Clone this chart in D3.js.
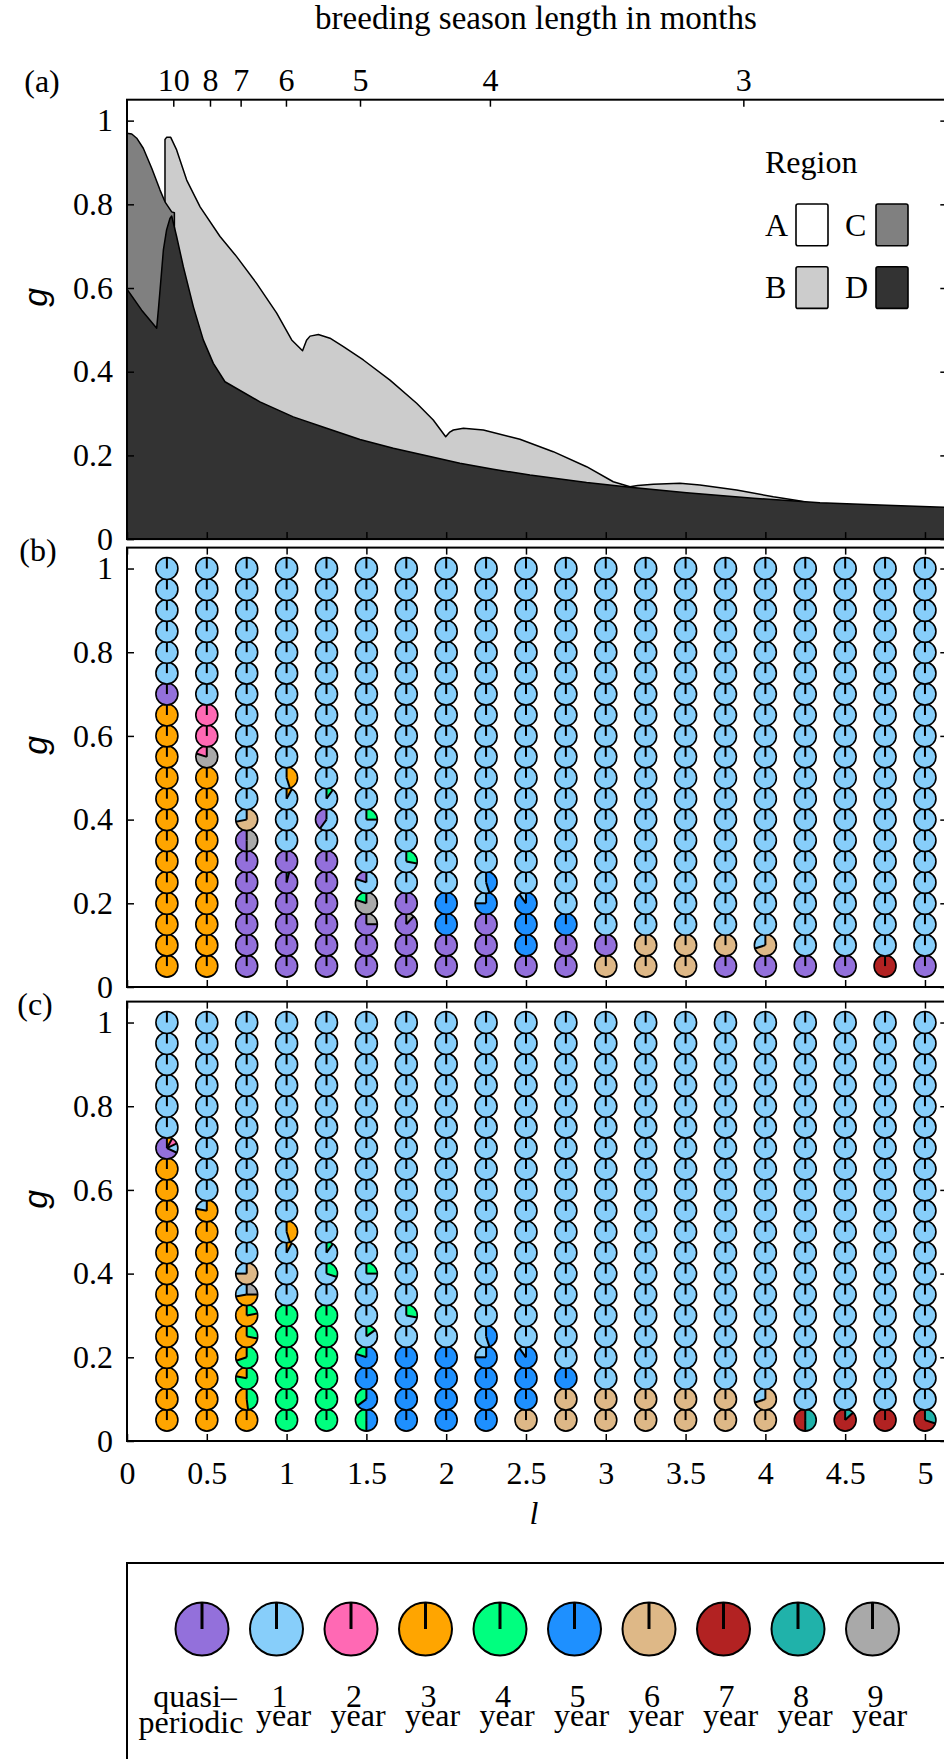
<!DOCTYPE html>
<html>
<head>
<meta charset="utf-8">
<script src="https://cdn.jsdelivr.net/npm/d3@7"></script>
<style>
    body { margin: 0; background: #fff; }
    svg { display: block; font-family: 'Liberation Serif', 'Times New Roman', serif; }
</style>
</head>
<body>
<svg id="chart" width="944" height="1759"></svg>
<script>
// ---- data ----
const categories = ['q', '1', '2', '3', '4', '5', '6', '7', '8', '9'];
const catColors = ['#9370db', '#87cefa', '#ff69b4', '#ffa500', '#00ff7f', '#1e90ff', '#deb887', '#b22222', '#20b2aa', '#a9a9a9'];
const legendLine1 = ['quasi\u2013', '1', '2', '3', '4', '5', '6', '7', '8', '9'];
const legendLine2 = ['periodic', 'year', 'year', 'year', 'year', 'year', 'year', 'year', 'year', 'year'];

const lValues = [0.25, 0.5, 0.75, 1, 1.25, 1.5, 1.75, 2, 2.25, 2.5, 2.75, 3, 3.25, 3.5, 3.75, 4, 4.25, 4.5, 4.75, 5];
const gValues = [0.05, 0.1, 0.15, 0.2, 0.25, 0.3, 0.35, 0.4, 0.45, 0.5, 0.55, 0.6, 0.65, 0.7, 0.75, 0.8, 0.85, 0.9, 0.95, 1];
const gTicks = [0, 0.2, 0.4, 0.6, 0.8, 1];
const lTicks = [0, 0.5, 1, 1.5, 2, 2.5, 3, 3.5, 4, 4.5, 5];
const monthTicks = [10, 8, 7, 6, 5, 4, 3];
const monthTickL = [0.29, 0.52, 0.712, 0.996, 1.46, 2.274, 3.862];

// region boundaries of panel (a), [l, g]
const regionD = [[0, 0.597], [0.092, 0.547], [0.186, 0.504], [0.197, 0.55], [0.207, 0.595], [0.228, 0.691], [0.248, 0.739], [0.269, 0.766], [0.28, 0.772], [0.311, 0.723], [0.353, 0.651], [0.416, 0.555], [0.478, 0.476], [0.541, 0.42], [0.614, 0.376], [0.833, 0.328], [1.042, 0.292], [1.251, 0.265], [1.46, 0.238], [1.669, 0.217], [1.878, 0.199], [2.086, 0.181], [2.295, 0.167], [2.525, 0.153], [2.88, 0.135], [3.152, 0.124], [3.507, 0.111], [3.925, 0.0975], [4.342, 0.087], [4.76, 0.081], [5.2, 0.075]];
const regionC = [[0, 0.97], [0.03, 0.968], [0.061, 0.958], [0.102, 0.934], [0.155, 0.886], [0.207, 0.834], [0.238, 0.806], [0.28, 0.782], [0.297, 0.78]];
const regionB = [[0.238, 0.955], [0.248, 0.96], [0.274, 0.96], [0.311, 0.93], [0.374, 0.858], [0.458, 0.794], [0.583, 0.723], [0.687, 0.675], [0.812, 0.611], [0.938, 0.54], [1.032, 0.476], [1.1, 0.45], [1.125, 0.475], [1.147, 0.485], [1.199, 0.489], [1.272, 0.48], [1.356, 0.46], [1.481, 0.428], [1.648, 0.38], [1.815, 0.3245], [1.919, 0.2846], [1.997, 0.2447], [2.02, 0.255], [2.045, 0.2607], [2.108, 0.2647], [2.233, 0.2607], [2.4, 0.2447], [2.462, 0.2385], [2.671, 0.2089], [2.88, 0.173], [3.047, 0.137], [3.152, 0.125], [3.2, 0.128], [3.298, 0.131], [3.465, 0.1334], [3.59, 0.1295], [3.82, 0.1175], [4.05, 0.101], [4.2, 0.092], [4.25, 0.0885]];
const regionNames = ['A', 'B', 'C', 'D'];
const regionFills = ['#ffffff', '#cccccc', '#808080', '#333333'];

// panel (b): one string per l column, one code per g from 0.05 up to 1 ('q' quasi-periodic, 'm' mixed)
const panelB = [
    '3333333333333q111111',
    '3333333333m221111111',
    'qqqqqqmm111111111111',
    'qqqqmq11mm1111111111',
    'qqqqqq1mm11111111111',
    'qqmmm11m111111111111',
    'qqmq1m11111111111111',
    'qq551111111111111111',
    'qqqmm111111111111111',
    'q55m1111111111111111',
    'qq511111111111111111',
    '6q111111111111111111',
    '66111111111111111111',
    '66111111111111111111',
    'q6111111111111111111',
    'qm111111111111111111',
    'q1111111111111111111',
    'q1111111111111111111',
    '71111111111111111111',
    'q1111111111111111111'
];
const mixedB = [
    { l: 0.5, g: 0.55, parts: { 2: 0.2, 9: 0.8 } },
    { l: 0.75, g: 0.35, parts: { q: 0.5, 9: 0.5 } },
    { l: 0.75, g: 0.4, parts: { 1: 0.28, 6: 0.72 } },
    { l: 1, g: 0.25, parts: { q: 0.96, 4: 0.04 } },
    { l: 1, g: 0.45, parts: { 1: 0.92, 3: 0.08 } },
    { l: 1, g: 0.5, parts: { 1: 0.55, 3: 0.45 } },
    { l: 1.25, g: 0.4, parts: { q: 0.4, 1: 0.6 } },
    { l: 1.25, g: 0.45, parts: { 1: 0.9, 4: 0.1 } },
    { l: 1.5, g: 0.15, parts: { q: 0.75, 9: 0.25 } },
    { l: 1.5, g: 0.2, parts: { 4: 0.2, 9: 0.8 } },
    { l: 1.5, g: 0.25, parts: { q: 0.2, 1: 0.8 } },
    { l: 1.5, g: 0.4, parts: { 1: 0.75, 4: 0.25 } },
    { l: 1.75, g: 0.15, parts: { q: 0.88, 9: 0.12 } },
    { l: 1.75, g: 0.3, parts: { 1: 0.72, 4: 0.28 } },
    { l: 2.25, g: 0.2, parts: { 1: 0.25, 5: 0.75 } },
    { l: 2.25, g: 0.25, parts: { 1: 0.55, 5: 0.45 } },
    { l: 2.5, g: 0.2, parts: { 1: 0.1, 5: 0.9 } },
    { l: 4, g: 0.1, parts: { 1: 0.3, 6: 0.7 } }
];

// panel (c)
const panelC = [
    '3333333333333m111111',
    '3333333333m111111111',
    '3mmmmmmm111111111111',
    '44444411mm1111111111',
    '4444441mm11111111111',
    'mm5mm11m111111111111',
    '55551m11111111111111',
    '55551111111111111111',
    '555mm111111111111111',
    '655m1111111111111111',
    '66511111111111111111',
    '66111111111111111111',
    '66111111111111111111',
    '66111111111111111111',
    '66111111111111111111',
    '6m111111111111111111',
    'm1111111111111111111',
    'm1111111111111111111',
    '71111111111111111111',
    'm1111111111111111111'
];
const mixedC = [
    { l: 0.25, g: 0.7, parts: { q: 0.68, 1: 0.14, 2: 0.1, 3: 0.08 } },
    { l: 0.5, g: 0.55, parts: { 1: 0.22, 3: 0.78 } },
    { l: 0.75, g: 0.1, parts: { 3: 0.52, 4: 0.48 } },
    { l: 0.75, g: 0.15, parts: { 3: 0.22, 4: 0.78 } },
    { l: 0.75, g: 0.2, parts: { 3: 0.3, 4: 0.7 } },
    { l: 0.75, g: 0.25, parts: { 3: 0.72, 4: 0.28 } },
    { l: 0.75, g: 0.3, parts: { 3: 0.78, 4: 0.22 } },
    { l: 0.75, g: 0.35, parts: { 1: 0.28, 3: 0.47, 9: 0.25 } },
    { l: 0.75, g: 0.4, parts: { 1: 0.25, 6: 0.75 } },
    { l: 1, g: 0.45, parts: { 1: 0.92, 3: 0.08 } },
    { l: 1, g: 0.5, parts: { 1: 0.55, 3: 0.45 } },
    { l: 1.25, g: 0.4, parts: { 1: 0.7, 4: 0.3 } },
    { l: 1.25, g: 0.45, parts: { 1: 0.9, 4: 0.1 } },
    { l: 1.5, g: 0.05, parts: { 4: 0.5, 5: 0.5 } },
    { l: 1.5, g: 0.1, parts: { 4: 0.35, 5: 0.65 } },
    { l: 1.5, g: 0.2, parts: { 4: 0.2, 5: 0.8 } },
    { l: 1.5, g: 0.25, parts: { 1: 0.85, 4: 0.15 } },
    { l: 1.5, g: 0.4, parts: { 1: 0.75, 4: 0.25 } },
    { l: 1.75, g: 0.3, parts: { 1: 0.72, 4: 0.28 } },
    { l: 2.25, g: 0.2, parts: { 1: 0.25, 5: 0.75 } },
    { l: 2.25, g: 0.25, parts: { 1: 0.55, 5: 0.45 } },
    { l: 2.5, g: 0.2, parts: { 1: 0.1, 5: 0.9 } },
    { l: 4, g: 0.1, parts: { 1: 0.3, 6: 0.7 } },
    { l: 4.25, g: 0.05, parts: { 7: 0.5, 8: 0.5 } },
    { l: 4.5, g: 0.05, parts: { 7: 0.87, 8: 0.13 } },
    { l: 5, g: 0.05, parts: { 7: 0.7, 8: 0.3 } }
];

// ---- layout ----
const svg = d3.select('#chart');
const fontSize = 32;
const serif = "'Liberation Serif', 'Times New Roman', serif";
const tickLen = 7;
const xScale = d3.scaleLinear().domain([0, 5.14]).range([127, 947.3]);
const panels = [
    { name: '(a)', top: 99.7, bottom: 539.1, labelX: 42, labelY: 92 },
    { name: '(b)', top: 547.6, bottom: 987, labelX: 38, labelY: 561 },
    { name: '(c)', top: 1001.6, bottom: 1441, labelX: 35, labelY: 1015 }
];
panels.forEach((p) => {
    p.y = d3.scaleLinear().domain([0, 1.05]).range([p.bottom, p.top]);
});

// clip to plot box
panels.forEach((p, i) => {
    svg.append('clipPath').attr('id', 'clip' + i)
        .append('rect')
        .attr('x', xScale(0)).attr('y', p.top)
        .attr('width', xScale(5.14) - xScale(0)).attr('height', p.bottom - p.top);
});

// ---- panel (a): regions ----
const pa = panels[0];
const area = d3.area()
    .x((d) => xScale(d[0]))
    .y0(pa.y(0))
    .y1((d) => pa.y(d[1]));
const regionsG = svg.append('g').attr('clip-path', 'url(#clip0)');
[[regionB, regionFills[1]], [regionC, regionFills[2]], [regionD, regionFills[3]]].forEach(([pts, fill]) => {
    regionsG.append('path')
        .attr('d', area(pts))
        .attr('fill', fill)
        .attr('stroke', '#000')
        .attr('stroke-width', 1.5)
        .attr('stroke-linejoin', 'round');
});

// region legend
const rl = svg.append('g').style('font-size', fontSize + 'px');
rl.append('text').attr('x', 765).attr('y', 173).text('Region');
regionNames.forEach((name, i) => {
    const col = i < 2 ? 0 : 1;
    const row = i % 2;
    const x0 = 765 + col * 80;
    const y0 = 204 + row * 62.7;
    rl.append('text').attr('x', x0).attr('y', y0 + 31.7).text(name);
    rl.append('rect')
        .attr('x', x0 + 31).attr('y', y0)
        .attr('width', 32).attr('height', 41.7)
        .attr('rx', 2)
        .attr('fill', regionFills[i])
        .attr('stroke', '#000')
        .attr('stroke-width', 1.6);
});

// ---- panels (b), (c): pie grids ----
const pieRadius = 11;
const pie = d3.pie().sort(null).value((d) => d.v).startAngle(0).endAngle(-2 * Math.PI);
const arc = d3.arc().innerRadius(0);

function drawPie(g, cx, cy, r, parts) {
    const slices = categories
        .map((c, i) => ({ c: c, color: catColors[i], v: parts[c] || 0 }))
        .filter((d) => d.v > 0);
    const pg = g.append('g').attr('transform', `translate(${cx},${cy})`);
    pg.selectAll('path.slice')
        .data(pie(slices))
        .enter()
        .append('path')
        .attr('class', 'slice')
        .attr('d', (d) => arc.outerRadius(r)(d))
        .attr('fill', (d) => d.data.color);
    pg.append('circle')
        .attr('r', r)
        .attr('fill', 'none')
        .attr('stroke', '#000')
        .attr('stroke-width', r > 20 ? 2 : 1.6);
    pg.selectAll('line')
        .data(pie(slices))
        .enter()
        .append('line')
        .attr('x1', 0).attr('y1', 0)
        .attr('x2', (d) => r * Math.sin(d.startAngle))
        .attr('y2', (d) => -r * Math.cos(d.startAngle))
        .attr('stroke', '#000')
        .attr('stroke-width', r > 20 ? 3 : 2);
}

[[panelB, mixedB, panels[1]], [panelC, mixedC, panels[2]]].forEach(([cols, mixed, p]) => {
    const g = svg.append('g');
    cols.forEach((colStr, ci) => {
        const l = lValues[ci];
        colStr.split('').forEach((code, gi) => {
            const gv = gValues[gi];
            let parts;
            if (code === 'm') {
                parts = mixed.find((m) => m.l === l && m.g === gv).parts;
            } else {
                parts = { [code]: 1 };
            }
            drawPie(g, xScale(l), p.y(gv), pieRadius, parts);
        });
    });
});

// ---- axes and frames ----
panels.forEach((p, i) => {
    const left = d3.axisLeft(p.y).tickValues(gTicks).tickFormat((d) => String(d))
        .tickSizeInner(-tickLen).tickSizeOuter(0).tickPadding(14);
    const right = d3.axisRight(p.y).tickValues(gTicks).tickFormat('')
        .tickSizeInner(-tickLen).tickSizeOuter(0);
    const bottom = d3.axisBottom(xScale).tickValues(lTicks)
        .tickFormat(i === 2 ? (d) => String(d) : '')
        .tickSizeInner(-tickLen).tickSizeOuter(0).tickPadding(20);

    const ax = svg.append('g');
    ax.append('g').attr('transform', `translate(${xScale(0)},0)`).call(left);
    ax.append('g').attr('transform', `translate(${xScale(5.14)},0)`).call(right);
    ax.append('g').attr('transform', `translate(0,${p.bottom})`).call(bottom);
    if (i === 0) {
        const top = d3.axisTop(xScale).tickValues(monthTickL)
            .tickFormat((d, k) => String(monthTicks[k]))
            .tickSizeInner(-tickLen).tickSizeOuter(0).tickPadding(9);
        ax.append('g').attr('transform', `translate(0,${p.top})`).call(top);
    } else {
        const top = d3.axisTop(xScale).tickValues(lTicks).tickFormat('')
            .tickSizeInner(-tickLen).tickSizeOuter(0);
        ax.append('g').attr('transform', `translate(0,${p.top})`).call(top);
    }
    ax.selectAll('.domain').remove();
    ax.selectAll('.tick line').attr('stroke', '#000').attr('stroke-width', 1.5);
    ax.selectAll('.tick text').attr('fill', '#000')
        .style('font-family', serif)
        .style('font-size', fontSize + 'px');

    svg.append('rect')
        .attr('x', xScale(0)).attr('y', p.top)
        .attr('width', xScale(5.14) - xScale(0)).attr('height', p.bottom - p.top)
        .attr('fill', 'none')
        .attr('stroke', '#000')
        .attr('stroke-width', 2);

    // panel letter
    svg.append('text')
        .attr('x', p.labelX).attr('y', p.labelY)
        .attr('text-anchor', 'middle')
        .style('font-size', fontSize + 'px')
        .text(p.name);

    // y label
    svg.append('text')
        .attr('transform', `translate(47,${(p.top + p.bottom) / 2 - 22}) rotate(-90)`)
        .attr('text-anchor', 'middle')
        .style('font-family', "'Liberation Sans', Arial, sans-serif")
        .style('font-style', 'italic')
        .style('font-size', '34px')
        .text('g');
});

// top title and x label
svg.append('text')
    .attr('x', 536).attr('y', 29)
    .attr('text-anchor', 'middle')
    .style('font-size', '33px')
    .text('breeding season length in months');
svg.append('text')
    .attr('x', 534).attr('y', 1524)
    .attr('text-anchor', 'middle')
    .style('font-size', fontSize + 'px')
    .style('font-style', 'italic')
    .text('l');

// ---- bottom legend ----
const legend = svg.append('g').style('font-size', fontSize + 'px');
legend.append('rect')
    .attr('x', 127).attr('y', 1563)
    .attr('width', 900).attr('height', 400)
    .attr('fill', 'none')
    .attr('stroke', '#000')
    .attr('stroke-width', 2);
categories.forEach((c, i) => {
    const cx = 202 + i * 74.5;
    drawPie(legend, cx, 1629, 26.5, { [c]: 1 });
    const t = legend.append('text').attr('text-anchor', 'middle');
    t.append('tspan')
        .attr('x', cx + (i === 0 ? -7 : 3)).attr('y', 1707)
        .text(legendLine1[i]);
    t.append('tspan')
        .attr('x', cx + (i === 0 ? -11 : 7)).attr('y', i === 0 ? 1733 : 1726)
        .text(legendLine2[i]);
});
</script>
</body>
</html>
